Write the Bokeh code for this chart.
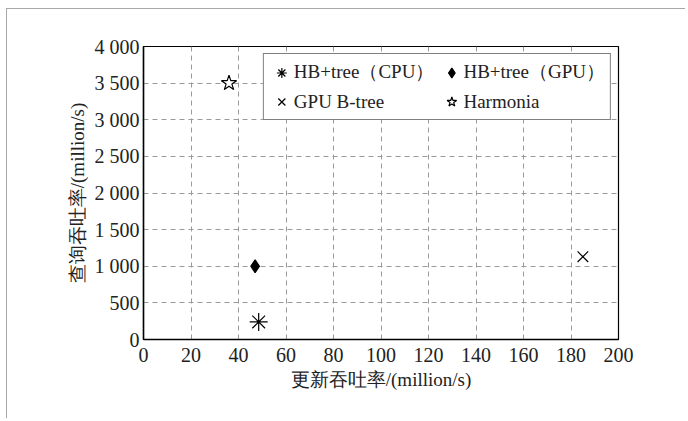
from bokeh.plotting import figure
from bokeh.models import Range1d, FixedTicker, Legend, LegendItem
from bokeh.embed import file_html
from bokeh.resources import INLINE

# data
series_names = ["HB+tree（CPU）", "HB+tree（GPU）", "GPU B-tree", "Harmonia"]
update_tp = [48.5, 47.0, 185.0, 36.0]      # million/s
query_tp = [240, 1000, 1130, 3500]          # million/s
markers = ["asterisk", "diamond", "x", "star"]

x_ticks = [0, 20, 40, 60, 80, 100, 120, 140, 160, 180, 200]
y_ticks = [0, 500, 1000, 1500, 2000, 2500, 3000, 3500, 4000]
y_tick_labels = ["0", "500", "1 000", "1 500", "2 000", "2 500", "3 000", "3 500", "4 000"]

x_label = "更新吞吐率/(million/s)"
y_label = "查询吞吐率/(million/s)"

FONT = "Liberation Serif"

W, H = 679, 410
p = figure(width=W, height=H, output_backend="svg", toolbar_location=None,
           x_range=Range1d(0, 200), y_range=Range1d(0, 4000),
           min_border_left=136, min_border_right=W - 136 - 475,
           min_border_top=37, min_border_bottom=H - 37 - 293)
p.styles = {"margin-left": "6px", "margin-top": "8px",
            "border-top": "1.5px solid #a8a8a8", "border-left": "1.5px solid #a8a8a8"}

p.outline_line_color = "black"
p.outline_line_width = 1.2
p.background_fill_color = "white"
p.border_fill_color = "white"

for ax, ticks in ((p.xaxis[0], x_ticks), (p.yaxis[0], y_ticks)):
    ax.ticker = FixedTicker(ticks=ticks)
    ax.axis_line_color = "black"
    ax.axis_line_width = 1.5
    ax.major_tick_out = 0
    ax.major_tick_in = 0
    ax.minor_tick_out = 0
    ax.minor_tick_in = 0
    ax.major_label_text_font = FONT
    ax.major_label_text_font_size = "20px"
    ax.major_label_text_color = "#222222"
    ax.axis_label_text_font = FONT
    ax.axis_label_text_font_size = "19px"
    ax.axis_label_text_font_style = "normal"
    ax.axis_label_text_color = "#222222"

p.yaxis[0].major_label_overrides = {t: l for t, l in zip(y_ticks, y_tick_labels)}
p.xaxis[0].axis_label = x_label
p.yaxis[0].axis_label = y_label
p.xaxis[0].major_label_standoff = 8
p.yaxis[0].major_label_standoff = 4
p.xaxis[0].axis_label_standoff = 4
p.yaxis[0].axis_label_standoff = 4

p.grid.grid_line_color = "#9a9a9a"
p.grid.grid_line_dash = "5 4"
p.grid.grid_line_width = 1

renderers = {}
for name, x, y, m in zip(series_names, update_tp, query_tp, markers):
    fill = "white" if m == "star" else "black"
    size = {"asterisk": 18, "diamond": 13, "x": 15, "star": 16}[m]
    r = p.scatter([x], [y], marker=m, size=size, line_color="black",
                  fill_color=fill, line_width=1.2)
    renderers[name] = r

# column-major order so rows read: CPU, GPU / B-tree, Harmonia
legend_order = [series_names[0], series_names[2], series_names[1], series_names[3]]
items = [LegendItem(label=n, renderers=[renderers[n]]) for n in legend_order]

legend = Legend(items=items, ncols=2, location="top_right",
                label_text_font=FONT, label_text_font_size="19px",
                label_text_color="#222222", label_width=130, label_height=20,
                glyph_width=25, glyph_height=25, label_standoff=-3,
                spacing=4, padding=5, margin=7,
                border_line_color="black", border_line_width=1.2,
                background_fill_alpha=1.0)
p.add_layout(legend)

open("out.html", "w").write(file_html(p, INLINE))
